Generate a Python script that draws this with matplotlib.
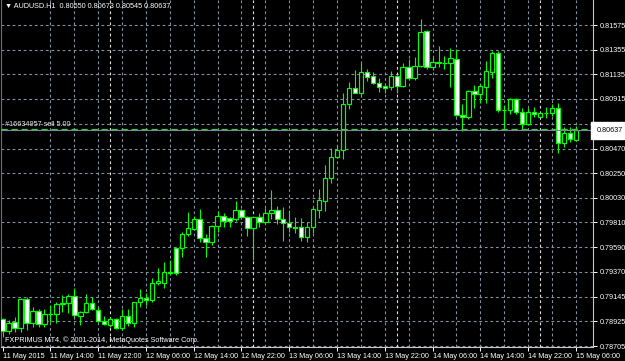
import matplotlib
matplotlib.use("Agg")
import matplotlib.pyplot as plt
import matplotlib.transforms as mtransforms

# AUDUSD H1 bars, 11 May 06:00 .. 15 May 06:00
opens = [0.78945, 0.78843, 0.78916, 0.78864, 0.79123, 0.78911, 0.79021, 0.78903, 0.78989, 0.78992,
         0.79079, 0.79090, 0.79153, 0.78977, 0.79007, 0.79088, 0.79028, 0.78929, 0.78894, 0.78945,
         0.78864, 0.78974, 0.78909, 0.79095, 0.79138, 0.79113, 0.79266, 0.79272, 0.79370, 0.79579,
         0.79579, 0.79707, 0.79752, 0.79838, 0.79669, 0.79638, 0.79781, 0.79871, 0.79847, 0.79838,
         0.79922, 0.79862, 0.79763, 0.79862, 0.79814, 0.79897, 0.79922, 0.79841, 0.79803, 0.79767,
         0.79767, 0.79678, 0.79767, 0.79922, 0.80005, 0.80210, 0.80393, 0.80458, 0.80866, 0.81009,
         0.80970, 0.81158, 0.81119, 0.81059, 0.81030, 0.81024, 0.81119, 0.81030, 0.81197, 0.81099,
         0.81209, 0.81524, 0.81197, 0.81233, 0.81233, 0.81233, 0.81269, 0.80771, 0.80750, 0.80985,
         0.80956, 0.81024, 0.81158, 0.81325, 0.80815, 0.80815, 0.80911, 0.80800, 0.80690, 0.80800,
         0.80755, 0.80791, 0.80791, 0.80833, 0.80523, 0.80608, 0.80550]
highs = [0.78956, 0.78938, 0.78962, 0.79132, 0.79144, 0.79057, 0.79041, 0.79034, 0.79072, 0.79102,
         0.79162, 0.79175, 0.79222, 0.79021, 0.79171, 0.79147, 0.79057, 0.78974, 0.78968, 0.78954,
         0.79034, 0.79034, 0.79102, 0.79213, 0.79177, 0.79311, 0.79400, 0.79457, 0.79475, 0.79594,
         0.79728, 0.79906, 0.79868, 0.79930, 0.79707, 0.79788, 0.79913, 0.79897, 0.79862, 0.80002,
         0.79930, 0.79868, 0.79865, 0.79895, 0.79937, 0.80100, 0.79957, 0.79946, 0.79922, 0.79856,
         0.79847, 0.79817, 0.79951, 0.80109, 0.80324, 0.80473, 0.80503, 0.80965, 0.81063, 0.81173,
         0.81233, 0.81179, 0.81158, 0.81099, 0.81054, 0.81164, 0.81126, 0.81233, 0.81269, 0.81286,
         0.81626, 0.81530, 0.81292, 0.81385, 0.81298, 0.81367, 0.81358, 0.80869, 0.80994, 0.81039,
         0.81048, 0.81256, 0.81345, 0.81345, 0.80860, 0.80920, 0.80920, 0.80831, 0.80831, 0.80840,
         0.80800, 0.80840, 0.80869, 0.80881, 0.80666, 0.80664, 0.80673]
lows = [0.78786, 0.78813, 0.78831, 0.78834, 0.78849, 0.78876, 0.78878, 0.78878, 0.78923, 0.78914,
        0.79012, 0.79001, 0.78968, 0.78894, 0.78998, 0.79028, 0.78923, 0.78894, 0.78878, 0.78858,
        0.78849, 0.78885, 0.78878, 0.79057, 0.79072, 0.79102, 0.79251, 0.79222, 0.79341, 0.79341,
        0.79504, 0.79689, 0.79743, 0.79638, 0.79504, 0.79609, 0.79728, 0.79767, 0.79767, 0.79826,
        0.79856, 0.79689, 0.79475, 0.79770, 0.79803, 0.79838, 0.79794, 0.79647, 0.79728, 0.79719,
        0.79647, 0.79638, 0.79719, 0.79847, 0.79915, 0.80160, 0.80384, 0.80375, 0.80822, 0.80964,
        0.80929, 0.81077, 0.81048, 0.80979, 0.80970, 0.80994, 0.80970, 0.81024, 0.81090, 0.81084,
        0.81202, 0.81186, 0.81173, 0.81202, 0.81179, 0.81018, 0.80762, 0.80630, 0.80732, 0.80831,
        0.80881, 0.80881, 0.81099, 0.80800, 0.80643, 0.80780, 0.80780, 0.80643, 0.80681, 0.80750,
        0.80750, 0.80741, 0.80762, 0.80428, 0.80482, 0.80528, 0.80545]
closes = [0.78843, 0.78911, 0.78864, 0.79123, 0.78911, 0.79021, 0.78903, 0.78989, 0.78992, 0.79079,
          0.79090, 0.79153, 0.78983, 0.79007, 0.79088, 0.79037, 0.78932, 0.78903, 0.78945, 0.78864,
          0.78974, 0.78909, 0.79097, 0.79132, 0.79114, 0.79266, 0.79287, 0.79370, 0.79356, 0.79356,
          0.79707, 0.79758, 0.79838, 0.79669, 0.79638, 0.79781, 0.79871, 0.79826, 0.79826, 0.79922,
          0.79862, 0.79758, 0.79862, 0.79814, 0.79897, 0.79922, 0.79841, 0.79803, 0.79770, 0.79763,
          0.79678, 0.79767, 0.79928, 0.80011, 0.80210, 0.80393, 0.80458, 0.80866, 0.81009, 0.80970,
          0.81158, 0.81113, 0.81054, 0.81018, 0.81012, 0.81119, 0.81030, 0.81197, 0.81099, 0.81209,
          0.81515, 0.81197, 0.81242, 0.81247, 0.81232, 0.81277, 0.80771, 0.80750, 0.80985, 0.80956,
          0.81030, 0.81164, 0.81325, 0.80815, 0.80814, 0.80911, 0.80800, 0.80690, 0.80800, 0.80780,
          0.80786, 0.80790, 0.80833, 0.80523, 0.80612, 0.80555, 0.80637]

time_labels = ["11 May 2015", "11 May 14:00", "11 May 22:00", "12 May 06:00", "12 May 14:00",
               "12 May 22:00", "13 May 06:00", "13 May 14:00", "13 May 22:00", "14 May 06:00",
               "14 May 14:00", "14 May 22:00", "15 May 06:00"]
label_bars = list(range(0, 97, 8))
grid_bars = list(range(8, 97, 4))
day_separators = [18, 42, 66, 90]   # 12..15 May 00:00
price_ticks = [0.78705, 0.78925, 0.79145, 0.79370, 0.79590, 0.79810, 0.80030,
               0.80250, 0.80470, 0.80690, 0.80915, 0.81135, 0.81355, 0.81575]

symbol = "AUDUSD.H1"
bid = 0.80637
order_price = 0.80645
order_text = "#16634957 sell 5.00"
copyright_text = "FXPRIMUS MT4, \u00a9 2001-2014, MetaQuotes Software Corp."

LIME = "#00ff00"
GRID = "#8290a2"
FS = 5.2

plt.rcParams['font.family'] = ['Liberation Sans', 'DejaVu Sans']

fig = plt.figure(figsize=(6.25, 3.61), dpi=100, facecolor="black")
ax = fig.add_axes([1 / 625, 14 / 361, 592 / 625, 347 / 361])
ax.set_facecolor("black")
ax.set_xlim(-0.285, 98.88)
ax.set_ylim(0.78697, 0.817985)

# grid and period separators
for p in price_ticks:
    ax.axhline(p, color=GRID, lw=0.8, ls=(0, (2.5, 2.5)), zorder=1)
for b in grid_bars:
    ax.axvline(b, color=GRID, lw=0.8, ls=(0, (2.5, 2.5)), zorder=1)
for b in day_separators:
    ax.axvline(b, color="#e0e0e0", lw=0.8, ls=(0, (2.5, 2.5)), zorder=1)

# candles
x = list(range(len(opens)))
ax.vlines(x, lows, highs, color=LIME, lw=0.8, zorder=2)
bottoms = [min(o, c) for o, c in zip(opens, closes)]
heights = [abs(c - o) for o, c in zip(opens, closes)]
fills = ["black" if c >= o else "white" for o, c in zip(opens, closes)]
ax.bar(x, heights, width=0.74, bottom=bottoms, color=fills, edgecolor=LIME,
       linewidth=0.85, zorder=3)

# order line and bid line
ax.axhline(order_price, color="#3ccf3c", lw=0.9, ls=(0, (5, 3)), zorder=4)
ax.axhline(bid, color="#778899", lw=0.8, zorder=4)
ax.text(0.45, order_price + 0.00006, order_text, color="#e8e8e8", fontsize=FS,
        va="bottom", ha="left", zorder=5)

# axes look
ax.spines["top"].set_visible(False)
ax.spines["right"].set_color("#c8c8c8")
ax.spines["bottom"].set_color("#c8c8c8")
ax.spines["left"].set_color("#707070")
for s in ["right", "bottom", "left"]:
    ax.spines[s].set_linewidth(0.8)

ax.yaxis.tick_right()
ax.set_yticks(price_ticks)
ax.set_yticklabels([f"{p:.5f}" for p in price_ticks])
ax.tick_params(axis="y", colors="white", length=3, width=0.7, pad=1.5, labelsize=FS)
ax.set_xticks(label_bars)
ax.set_xticklabels(time_labels, ha="left")
ax.tick_params(axis="x", colors="white", length=3, width=0.7, pad=1.5, labelsize=FS)

blend = mtransforms.blended_transform_factory(ax.transAxes, ax.transData)
ax.text(1.006, bid - 0.00003, f"{bid:.5f}", transform=blend, color="black", fontsize=FS,
        ha="left", va="center", zorder=6, clip_on=False,
        bbox=dict(facecolor="white", edgecolor="white", pad=0.7, boxstyle="square"))

title = f"\u25bc {symbol}  {opens[-1]:.5f} {highs[-1]:.5f} {lows[-1]:.5f} {closes[-1]:.5f}"
ax.text(0.006, 0.992, title, transform=ax.transAxes, color="white", fontsize=FS,
        va="top", ha="left", zorder=6)
ax.text(0.007, 0.008, copyright_text, transform=ax.transAxes, color="white", fontsize=FS,
        va="bottom", ha="left", zorder=6)

fig.savefig("out.png", dpi=100, facecolor="black")
